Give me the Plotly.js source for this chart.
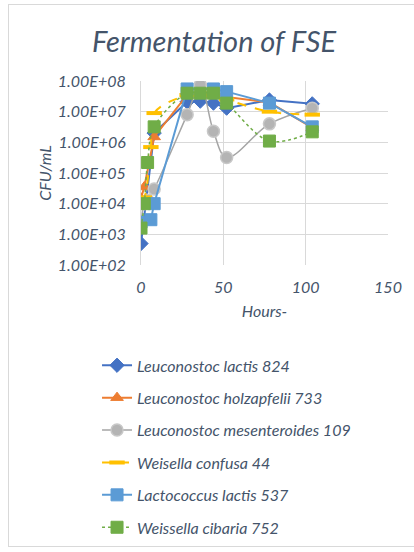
<!DOCTYPE html>
<html>
<head>
<meta charset="utf-8">
<script src="https://cdn.plot.ly/plotly-3.0.1.min.js"></script>
<style>
  html, body { margin: 0; padding: 0; background: #ffffff; }
  #wrap { position: relative; width: 414px; height: 552px; overflow: hidden; }
  #frame { position: absolute; left: 8px; top: 4px; width: 420px; height: 543px;
           border: 1px solid #d9d9d9; box-sizing: border-box; pointer-events: none; }
  #chart { position: absolute; left: 0; top: 0; width: 414px; height: 552px; }
</style>
</head>
<body>
<div id="wrap">
  <div id="chart"></div>
  <div id="frame"></div>
</div>
<script>
// Viable counts (CFU/mL) over fermentation time (hours)
const seriesNames = [
  "Leuconostoc lactis 824",
  "Leuconostoc holzapfelii 733",
  "Leuconostoc mesenteroides 109",
  "Weisella confusa 44",
  "Lactococcus lactis 537",
  "Weissella cibaria 752"
];

const hoursLactis824 = [0, 8, 28, 36, 44, 52, 78, 104];
const cfuLactis824   = [5e2, 2e6, 2.1e7, 2.2e7, 1.9e7, 1.3e7, 2.4e7, 1.8e7];

const hoursHolz733 = [0, 2, 8, 28, 36, 44, 52, 78, 104];
const cfuHolz733   = [1.5e4, 3.5e4, 1.5e6, 3.5e7, 3.5e7, 3.5e7, 3e7, 2e7, 3e6];

const hoursMes109 = [0, 2, 4, 8, 28, 36, 44, 52, 78, 104];
const cfuMes109   = [2e3, 1e4, 1.3e4, 3e4, 8e6, 7.5e7, 2.3e6, 3.2e5, 4e6, 1.3e7];

const hoursConf44 = [0, 2, 6, 8, 28, 36, 44, 52, 78, 104];
const cfuConf44   = [1.3e4, 1.6e4, 7e5, 9e6, 3.5e7, 4e7, 3.5e7, 2.5e7, 1e7, 8e6];

const hoursLacto537 = [0, 6, 8, 28, 44, 52, 78, 104];
const cfuLacto537   = [2.5e3, 3e3, 1e4, 5.5e7, 5.5e7, 4.5e7, 1.9e7, 3.2e6];

const hoursCib752 = [0, 2, 4, 8, 28, 36, 44, 52, 78, 104];
const cfuCib752   = [1.6e3, 1e4, 2.2e5, 3.2e6, 4e7, 4e7, 4e7, 1.9e7, 1.1e6, 2.2e6];

const yTickVals = [1e2, 1e3, 1e4, 1e5, 1e6, 1e7, 1e8];
const yTickText = ["1.00E+02", "1.00E+03", "1.00E+04", "1.00E+05", "1.00E+06", "1.00E+07", "1.00E+08"];
const xTickVals = [0, 50, 100, 150];

const textColor = "#44546A";
const fontFamily = "Lato, 'Open Sans', sans-serif";

function series(i, x, y, color, line, marker) {
  return {
    type: "scatter", mode: "lines+markers",
    name: "<i>" + seriesNames[i] + "</i>", legendgroup: "g" + i,
    x: x, y: y,
    line: Object.assign({ color: color, width: 2 }, line),
    marker: Object.assign({ color: color, line: { color: color, width: 1 } }, marker)
  };
}

const traces = [
  series(0, hoursLactis824, cfuLactis824, "#4472C4", {}, { symbol: "diamond", size: 11 }),
  series(1, hoursHolz733, cfuHolz733, "#ED7D31", {}, { symbol: "triangle-up", size: 11 }),
  series(2, hoursMes109, cfuMes109, "#A5A5A5", { width: 1.5, shape: "spline" },
         { symbol: "circle", size: 12, color: "#B4B4B4", line: { color: "#C8C8C8", width: 1.5 } }),
  series(3, hoursConf44, cfuConf44, "#FFC000", { dash: "dash", width: 2, shape: "spline" },
         { symbol: "line-ew", size: 11, line: { color: "#FFC000", width: 4 } }),
  series(4, hoursLacto537, cfuLacto537, "#5B9BD5", {}, { symbol: "square", size: 12 }),
  series(5, hoursCib752, cfuCib752, "#70AD47", { dash: "dot", width: 1.5, shape: "spline" },
         { symbol: "square", size: 12 })
];

const layout = {
  width: 414, height: 552,
  margin: { l: 141, r: 26, t: 81, b: 287, autoexpand: false },
  paper_bgcolor: "rgba(0,0,0,0)",
  plot_bgcolor: "#ffffff",
  font: { family: fontFamily, color: textColor, size: 16 },
  title: {
    text: "<i>Fermentation of FSE</i>",
    font: { family: fontFamily, size: 29, color: textColor },
    x: 0.517, xanchor: "center", y: 0.925, yanchor: "middle"
  },
  xaxis: {
    range: [0, 150], tickvals: xTickVals, ticktext: xTickVals.map(v => "<i>" + v + "</i>"),
    showgrid: true, gridcolor: "#D9D9D9", gridwidth: 1,
    zeroline: false, showline: false, ticks: "",
    ticklabelstandoff: 11,
    tickfont: { size: 16, color: textColor },
    title: { text: "<i>Hours-</i>", font: { size: 16, color: textColor }, standoff: 10 }
  },
  yaxis: {
    type: "log", range: [2, 8], tickvals: yTickVals,
    ticktext: yTickText.map(t => "<i>" + t + "</i>"),
    showgrid: true, gridcolor: "#D9D9D9", gridwidth: 1,
    zeroline: false, showline: true, linecolor: "#D9D9D9", ticks: "",
    ticklabelstandoff: 11,
    tickfont: { size: 16, color: textColor },
    title: { text: "<i>CFU/mL</i>", font: { size: 16, color: textColor }, standoff: 2 }
  },
  showlegend: true,
  legend: {
    orientation: "v", x: -0.178, xanchor: "left", y: -0.453, yanchor: "top",
    traceorder: "grouped", tracegroupgap: 8.6, itemwidth: 30,
    font: { size: 16, color: textColor, family: fontFamily },
    bgcolor: "rgba(0,0,0,0)"
  }
};

Plotly.newPlot("chart", traces, layout, { displayModeBar: false, staticPlot: true });
</script>
</body>
</html>
